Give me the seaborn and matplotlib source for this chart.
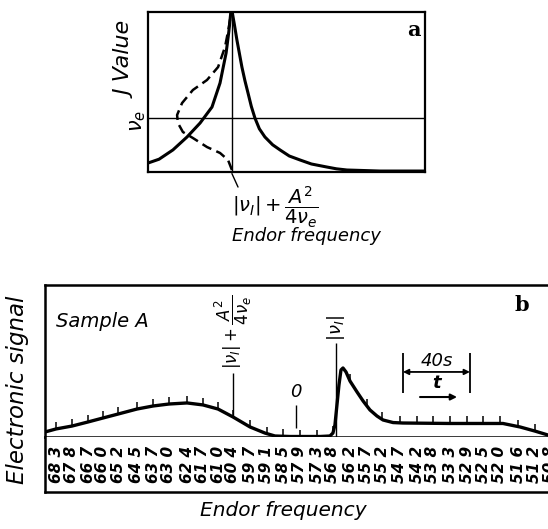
import numpy as np
import matplotlib
matplotlib.use("Agg")
import matplotlib.pyplot as plt
import seaborn as sns

# ---- panel a: J value against endor frequency (arbitrary units 0-100)
a_left_x = [0, 4, 9, 14.1, 18.8, 23.1, 26, 28.2, 29.2, 29.9]
a_left_y = [5.6, 8, 13.8, 21.9, 30.6, 40.6, 55.6, 74.4, 88, 100]
a_right_x = [30.4, 31.2, 32.1, 33.9, 35, 36.1, 37.3, 38.6, 40.2, 42.2, 45, 47.7,
             51, 54.9, 59, 64.6, 68, 71.8, 83.8, 100]
a_right_y = [100, 92, 82.5, 65.6, 57, 49.4, 41, 33.75, 27, 21.9, 17, 13.75,
             10, 7.5, 5, 3.1, 2, 1.25, 0.6, 0.6]
a_dash_x = [30.3, 28.9, 26, 21.3, 16.2, 12.6, 10.8, 10.5, 12.3, 16.2, 21.3, 25.3, 27.8, 29.2, 30]
a_dash_y = [1.25, 7.5, 11.9, 15.6, 21.25, 25, 30.6, 35.6, 43.1, 51.25, 57.5, 65.6, 78.1, 90.6, 99.4]
nu_e_level = 33.75
f_center = 30.3

# ---- panel b: electronic signal against time (s), frequency markers
b_t = [0, 6.6, 16.1, 25.7, 34.6, 43.6, 54.9, 64.5, 74.0, 84.8, 94.3, 103.3, 112.2,
       122.4, 131.3, 137.3, 146.3, 164.2, 170.1, 171.9, 173.1, 174.3, 175.5, 176.7,
       177.9, 179.7, 182.1, 186.3, 189.9, 194.0, 198.2, 201.8, 207.8, 213.7, 241.8,
       273.4, 283.6, 292.5, 300.3]
b_sig = [3.3, 5.3, 7.2, 9.9, 12.5, 15.1, 18.4, 20.4, 21.7, 22.4, 21.1, 18.4, 13.2,
         6.6, 2.6, 0.66, 0.33, 0.33, 0.66, 2.6, 7.9, 21.1, 34.2, 44.1,
         45.4, 42.8, 36.8, 29.6, 23.7, 17.8, 13.8, 11.2, 9.5, 9.2, 8.9,
         8.9, 6.6, 3.9, 1.3]
marker_t = [6.6, 16.1, 25.7, 34.6, 43.6, 54.9, 64.5, 74.0, 84.8, 94.3, 103.3, 112.2,
            122.4, 132.5, 142.1, 152.2, 162.4, 171.9, 182.1, 192.2, 201.2, 211.9,
            222.1, 231.6, 241.8, 252.0, 261.6, 271.6, 282.4, 292.5, 301.5]
marker_labels = ["68 3", "67 8", "66 7", "66 0", "65 2", "64 5", "63 7", "63 0",
                 "62 4", "61 7", "61 0", "60 4", "59 7", "59 1", "58 5", "57 9",
                 "57 3", "56 8", "56 2", "55 7", "55 2", "54 7", "54 2", "53 8",
                 "53 3", "52 9", "52 5", "52 0", "51 6", "51 2", "50 8"]
t_hyper = 112.2   # |nu_I| + A^2/4nu_e
t_nuI = 173.7     # |nu_I|
t_zero = 149.9
bar_start, bar_len = 213.7, 40

sns.set_theme(style="white")
plt.rcParams["font.family"] = ["DejaVu Sans"]
plt.rcParams["mathtext.fontset"] = "dejavusans"
plt.rcParams["text.color"] = "black"

W, H = 548, 529
fig = plt.figure(figsize=(W / 100, H / 100), dpi=100)


def box(l, t, r, b):
    return [l / W, 1 - b / H, (r - l) / W, (b - t) / H]


def ftext(px, py, s, **kw):
    fig.text(px / W, 1 - py / H, s, color="black", **kw)


# Panel a
ax_a = fig.add_axes(box(148, 12, 425, 172))
sns.lineplot(x=a_left_x, y=a_left_y, ax=ax_a, color="black", lw=2.2, sort=False, estimator=None)
sns.lineplot(x=a_right_x, y=a_right_y, ax=ax_a, color="black", lw=2.2, sort=False, estimator=None)
sns.lineplot(x=a_dash_x, y=a_dash_y, ax=ax_a, color="black", lw=1.8, sort=False,
             estimator=None, dashes=False, linestyle=(0, (4, 2.2)))
ax_a.axhline(nu_e_level, color="black", lw=1.0)
ax_a.axvline(f_center, color="black", lw=1.0)
ax_a.plot([f_center, f_center + 2.2], [-1, -9.4], color="black", lw=1.0, clip_on=False)
ax_a.set_xlim(0, 100)
ax_a.set_ylim(0, 100)
ax_a.set_xticks([])
ax_a.set_yticks([])
for s in ax_a.spines.values():
    s.set_linewidth(1.6)
    s.set_color("black")

ftext(127, 60, "J Value", rotation=90, style="italic", fontsize=16, ha="center", va="center")
ftext(138, 121, r"$\nu_e$", rotation=90, fontsize=15, ha="center", va="center")
ftext(275, 207, r"$|\nu_I|+\dfrac{A^2}{4\nu_e}$", fontsize=14, ha="center", va="center")
ftext(306, 236, "Endor frequency", style="italic", fontsize=13, ha="center", va="center")
ftext(414, 30, "a", family="DejaVu Serif", weight="bold", fontsize=15, ha="center", va="center")

# Panel b: trace
ax_b = fig.add_axes(box(45, 285, 548, 437))
sns.lineplot(x=b_t, y=b_sig, ax=ax_b, color="black", lw=2.4, sort=False, estimator=None)
base = np.interp(marker_t, b_t, b_sig)
ax_b.vlines(marker_t, base, base + 4.6, color="black", lw=1.1)
ax_b.vlines(t_hyper, np.interp(t_hyper, b_t, b_sig), 42.1, color="black", lw=1.0)
ax_b.vlines(t_nuI, 0, 61.8, color="black", lw=1.0)
ax_b.vlines(t_zero, 5.9, 21, color="black", lw=1.0)
ax_b.vlines([bar_start, bar_start + bar_len], 28.9, 55.3, color="black", lw=1.3)
ax_b.annotate("", xy=(bar_start + bar_len, 42.8), xytext=(bar_start, 42.8),
              arrowprops=dict(arrowstyle="<|-|>", lw=1.3, color="black",
                              shrinkA=0, shrinkB=0, mutation_scale=8))
ax_b.annotate("", xy=(246, 26.3), xytext=(223.9, 26.3),
              arrowprops=dict(arrowstyle="-|>", lw=1.5, color="black",
                              shrinkA=0, shrinkB=0, mutation_scale=9))
txt = dict(color="black", ha="center", va="center")
ax_b.text(6.6, 75.7, "Sample A", style="italic", fontsize=14, color="black",
          ha="left", va="center")
ax_b.text(284.8, 86.8, "b", family="DejaVu Serif", weight="bold", fontsize=15, **txt)
ax_b.text(t_hyper, 69, r"$|\nu_I|+\dfrac{A^2}{4\nu_e}$", rotation=90, fontsize=12, **txt)
ax_b.text(t_nuI, 71.7, r"$|\nu_I|$", rotation=90, fontsize=13, **txt)
ax_b.text(t_zero, 29.6, "0", style="italic", fontsize=13, **txt)
ax_b.text(bar_start + bar_len / 2, 50, "40s", style="italic", fontsize=13, **txt)
ax_b.text(bar_start + bar_len / 2, 35.5, "t", style="italic", weight="bold", fontsize=13, **txt)
ax_b.set_xlim(0, 300.3)
ax_b.set_ylim(0, 100)
ax_b.set_xticks([])
ax_b.set_yticks([])
ax_b.spines["right"].set_visible(False)
for s in ax_b.spines.values():
    s.set_linewidth(1.8)
    s.set_color("black")

# Panel b: frequency label strip
ax_s = fig.add_axes(box(45, 437, 548, 492))
for t, lab in zip(marker_t, marker_labels):
    ax_s.text(t, 0.5, lab, rotation=90, style="italic", weight="bold", fontsize=11,
              clip_on=True, **txt)
ax_s.set_xlim(0, 300.3)
ax_s.set_ylim(0, 1)
ax_s.set_xticks([])
ax_s.set_yticks([])
ax_s.spines["right"].set_visible(False)
ax_s.spines["top"].set_visible(False)
for s in ax_s.spines.values():
    s.set_linewidth(1.8)
    s.set_color("black")

ftext(18, 390, "Electronic signal", rotation=90, style="italic", fontsize=16.5,
      ha="center", va="center")
ftext(283, 511, "Endor frequency", style="italic", fontsize=14.5, ha="center", va="center")

fig.savefig("out.png", dpi=100)
